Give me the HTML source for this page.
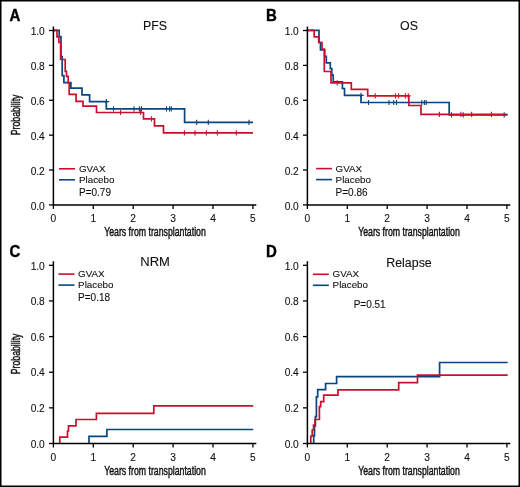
<!DOCTYPE html><html><head><meta charset="utf-8"><style>html,body{margin:0;padding:0;background:#fff;}svg{display:block;will-change:transform;}</style></head><body>
<svg width="520" height="487" viewBox="0 0 520 487" font-family='"Liberation Sans", sans-serif'>
<style>text{stroke:#111;stroke-width:0.1px;} text.cond{stroke-width:0.45px;} text.big{stroke:#000;stroke-width:0.35px;}</style>
<rect x="0" y="0" width="520" height="487" fill="#fff"/>
<path d="M49.0 204.90 H53.4" stroke="#000" stroke-width="1.3"/>
<text x="44.8" y="209.50" font-size="10.2" text-anchor="end" fill="#111">0.0</text>
<path d="M49.0 170.02 H53.4" stroke="#000" stroke-width="1.3"/>
<text x="44.8" y="174.62" font-size="10.2" text-anchor="end" fill="#111">0.2</text>
<path d="M49.0 135.14 H53.4" stroke="#000" stroke-width="1.3"/>
<text x="44.8" y="139.74" font-size="10.2" text-anchor="end" fill="#111">0.4</text>
<path d="M49.0 100.26 H53.4" stroke="#000" stroke-width="1.3"/>
<text x="44.8" y="104.86" font-size="10.2" text-anchor="end" fill="#111">0.6</text>
<path d="M49.0 65.38 H53.4" stroke="#000" stroke-width="1.3"/>
<text x="44.8" y="69.98" font-size="10.2" text-anchor="end" fill="#111">0.8</text>
<path d="M49.0 30.50 H53.4" stroke="#000" stroke-width="1.3"/>
<text x="44.8" y="35.10" font-size="10.2" text-anchor="end" fill="#111">1.0</text>
<path d="M53.40 204.9 V208.9" stroke="#000" stroke-width="1.3"/>
<text x="53.40" y="222.10" font-size="10.2" text-anchor="middle" fill="#111">0</text>
<path d="M93.30 204.9 V208.9" stroke="#000" stroke-width="1.3"/>
<text x="93.30" y="222.10" font-size="10.2" text-anchor="middle" fill="#111">1</text>
<path d="M133.20 204.9 V208.9" stroke="#000" stroke-width="1.3"/>
<text x="133.20" y="222.10" font-size="10.2" text-anchor="middle" fill="#111">2</text>
<path d="M173.10 204.9 V208.9" stroke="#000" stroke-width="1.3"/>
<text x="173.10" y="222.10" font-size="10.2" text-anchor="middle" fill="#111">3</text>
<path d="M213.00 204.9 V208.9" stroke="#000" stroke-width="1.3"/>
<text x="213.00" y="222.10" font-size="10.2" text-anchor="middle" fill="#111">4</text>
<path d="M252.90 204.9 V208.9" stroke="#000" stroke-width="1.3"/>
<text x="252.90" y="222.10" font-size="10.2" text-anchor="middle" fill="#111">5</text>
<text x="155.0" y="236.40" font-size="12.3" text-anchor="middle" textLength="101.6" class="cond" lengthAdjust="spacingAndGlyphs" fill="#111">Years from transplantation</text>
<text x="155" y="29.7" font-size="12.4" text-anchor="middle" fill="#111">PFS</text>
<path d="M303.0 204.90 H307.4" stroke="#000" stroke-width="1.3"/>
<text x="298.79999999999995" y="209.50" font-size="10.2" text-anchor="end" fill="#111">0.0</text>
<path d="M303.0 170.02 H307.4" stroke="#000" stroke-width="1.3"/>
<text x="298.79999999999995" y="174.62" font-size="10.2" text-anchor="end" fill="#111">0.2</text>
<path d="M303.0 135.14 H307.4" stroke="#000" stroke-width="1.3"/>
<text x="298.79999999999995" y="139.74" font-size="10.2" text-anchor="end" fill="#111">0.4</text>
<path d="M303.0 100.26 H307.4" stroke="#000" stroke-width="1.3"/>
<text x="298.79999999999995" y="104.86" font-size="10.2" text-anchor="end" fill="#111">0.6</text>
<path d="M303.0 65.38 H307.4" stroke="#000" stroke-width="1.3"/>
<text x="298.79999999999995" y="69.98" font-size="10.2" text-anchor="end" fill="#111">0.8</text>
<path d="M303.0 30.50 H307.4" stroke="#000" stroke-width="1.3"/>
<text x="298.79999999999995" y="35.10" font-size="10.2" text-anchor="end" fill="#111">1.0</text>
<path d="M307.40 204.9 V208.9" stroke="#000" stroke-width="1.3"/>
<text x="307.40" y="222.10" font-size="10.2" text-anchor="middle" fill="#111">0</text>
<path d="M347.30 204.9 V208.9" stroke="#000" stroke-width="1.3"/>
<text x="347.30" y="222.10" font-size="10.2" text-anchor="middle" fill="#111">1</text>
<path d="M387.20 204.9 V208.9" stroke="#000" stroke-width="1.3"/>
<text x="387.20" y="222.10" font-size="10.2" text-anchor="middle" fill="#111">2</text>
<path d="M427.10 204.9 V208.9" stroke="#000" stroke-width="1.3"/>
<text x="427.10" y="222.10" font-size="10.2" text-anchor="middle" fill="#111">3</text>
<path d="M467.00 204.9 V208.9" stroke="#000" stroke-width="1.3"/>
<text x="467.00" y="222.10" font-size="10.2" text-anchor="middle" fill="#111">4</text>
<path d="M506.90 204.9 V208.9" stroke="#000" stroke-width="1.3"/>
<text x="506.90" y="222.10" font-size="10.2" text-anchor="middle" fill="#111">5</text>
<text x="409.0" y="236.40" font-size="12.3" text-anchor="middle" textLength="101.6" class="cond" lengthAdjust="spacingAndGlyphs" fill="#111">Years from transplantation</text>
<text x="409" y="29.7" font-size="12.4" text-anchor="middle" fill="#111">OS</text>
<path d="M49.0 443.50 H53.4" stroke="#000" stroke-width="1.3"/>
<text x="44.8" y="447.70" font-size="10.2" text-anchor="end" fill="#111">0.0</text>
<path d="M49.0 407.86 H53.4" stroke="#000" stroke-width="1.3"/>
<text x="44.8" y="412.06" font-size="10.2" text-anchor="end" fill="#111">0.2</text>
<path d="M49.0 372.22 H53.4" stroke="#000" stroke-width="1.3"/>
<text x="44.8" y="376.42" font-size="10.2" text-anchor="end" fill="#111">0.4</text>
<path d="M49.0 336.58 H53.4" stroke="#000" stroke-width="1.3"/>
<text x="44.8" y="340.78" font-size="10.2" text-anchor="end" fill="#111">0.6</text>
<path d="M49.0 300.94 H53.4" stroke="#000" stroke-width="1.3"/>
<text x="44.8" y="305.14" font-size="10.2" text-anchor="end" fill="#111">0.8</text>
<path d="M49.0 265.30 H53.4" stroke="#000" stroke-width="1.3"/>
<text x="44.8" y="269.50" font-size="10.2" text-anchor="end" fill="#111">1.0</text>
<path d="M53.40 443.5 V447.5" stroke="#000" stroke-width="1.3"/>
<text x="53.40" y="460.70" font-size="10.2" text-anchor="middle" fill="#111">0</text>
<path d="M93.30 443.5 V447.5" stroke="#000" stroke-width="1.3"/>
<text x="93.30" y="460.70" font-size="10.2" text-anchor="middle" fill="#111">1</text>
<path d="M133.20 443.5 V447.5" stroke="#000" stroke-width="1.3"/>
<text x="133.20" y="460.70" font-size="10.2" text-anchor="middle" fill="#111">2</text>
<path d="M173.10 443.5 V447.5" stroke="#000" stroke-width="1.3"/>
<text x="173.10" y="460.70" font-size="10.2" text-anchor="middle" fill="#111">3</text>
<path d="M213.00 443.5 V447.5" stroke="#000" stroke-width="1.3"/>
<text x="213.00" y="460.70" font-size="10.2" text-anchor="middle" fill="#111">4</text>
<path d="M252.90 443.5 V447.5" stroke="#000" stroke-width="1.3"/>
<text x="252.90" y="460.70" font-size="10.2" text-anchor="middle" fill="#111">5</text>
<text x="155.0" y="475.00" font-size="12.3" text-anchor="middle" textLength="101.6" class="cond" lengthAdjust="spacingAndGlyphs" fill="#111">Years from transplantation</text>
<text x="155.1" y="266.4" font-size="13" text-anchor="middle" fill="#111">NRM</text>
<path d="M303.0 443.50 H307.4" stroke="#000" stroke-width="1.3"/>
<text x="298.79999999999995" y="447.70" font-size="10.2" text-anchor="end" fill="#111">0.0</text>
<path d="M303.0 407.86 H307.4" stroke="#000" stroke-width="1.3"/>
<text x="298.79999999999995" y="412.06" font-size="10.2" text-anchor="end" fill="#111">0.2</text>
<path d="M303.0 372.22 H307.4" stroke="#000" stroke-width="1.3"/>
<text x="298.79999999999995" y="376.42" font-size="10.2" text-anchor="end" fill="#111">0.4</text>
<path d="M303.0 336.58 H307.4" stroke="#000" stroke-width="1.3"/>
<text x="298.79999999999995" y="340.78" font-size="10.2" text-anchor="end" fill="#111">0.6</text>
<path d="M303.0 300.94 H307.4" stroke="#000" stroke-width="1.3"/>
<text x="298.79999999999995" y="305.14" font-size="10.2" text-anchor="end" fill="#111">0.8</text>
<path d="M303.0 265.30 H307.4" stroke="#000" stroke-width="1.3"/>
<text x="298.79999999999995" y="269.50" font-size="10.2" text-anchor="end" fill="#111">1.0</text>
<path d="M307.40 443.5 V447.5" stroke="#000" stroke-width="1.3"/>
<text x="307.40" y="460.70" font-size="10.2" text-anchor="middle" fill="#111">0</text>
<path d="M347.30 443.5 V447.5" stroke="#000" stroke-width="1.3"/>
<text x="347.30" y="460.70" font-size="10.2" text-anchor="middle" fill="#111">1</text>
<path d="M387.20 443.5 V447.5" stroke="#000" stroke-width="1.3"/>
<text x="387.20" y="460.70" font-size="10.2" text-anchor="middle" fill="#111">2</text>
<path d="M427.10 443.5 V447.5" stroke="#000" stroke-width="1.3"/>
<text x="427.10" y="460.70" font-size="10.2" text-anchor="middle" fill="#111">3</text>
<path d="M467.00 443.5 V447.5" stroke="#000" stroke-width="1.3"/>
<text x="467.00" y="460.70" font-size="10.2" text-anchor="middle" fill="#111">4</text>
<path d="M506.90 443.5 V447.5" stroke="#000" stroke-width="1.3"/>
<text x="506.90" y="460.70" font-size="10.2" text-anchor="middle" fill="#111">5</text>
<text x="409.0" y="475.00" font-size="12.3" text-anchor="middle" textLength="101.6" class="cond" lengthAdjust="spacingAndGlyphs" fill="#111">Years from transplantation</text>
<text x="409" y="266.5" font-size="12.4" text-anchor="middle" fill="#111">Relapse</text>
<text transform="translate(9.4 20.7) scale(1 1.07)" x="0" y="0" font-size="15" font-weight="bold" fill="#000" class="big">A</text>
<text transform="translate(266.0 20.9) scale(1 1.07)" x="0" y="0" font-size="15" font-weight="bold" fill="#000" class="big">B</text>
<text transform="translate(9.6 256.8) scale(1 1.07)" x="0" y="0" font-size="15" font-weight="bold" fill="#000" class="big">C</text>
<text transform="translate(266.0 256.9) scale(1 1.07)" x="0" y="0" font-size="15" font-weight="bold" fill="#000" class="big">D</text>
<text transform="translate(20.4 114.9) rotate(-90)" x="0" y="0" font-size="12.3" text-anchor="middle" textLength="40.6" class="cond" lengthAdjust="spacingAndGlyphs" fill="#111">Probability</text>
<text transform="translate(20.4 353.9) rotate(-90)" x="0" y="0" font-size="12.3" text-anchor="middle" textLength="40.6" class="cond" lengthAdjust="spacingAndGlyphs" fill="#111">Probability</text>
<path d="M59 168.8 H75" stroke="#c8102e" stroke-width="1.6"/>
<path d="M59 179.8 H75" stroke="#0a4581" stroke-width="1.6"/>
<text x="79" y="171.70000000000002" font-size="9.8" fill="#111">GVAX</text>
<text x="79" y="182.70000000000002" font-size="9.8" fill="#111">Placebo</text>
<text x="79" y="195.9" font-size="10" fill="#111">P=0.79</text>
<path d="M316.1 168.6 H332" stroke="#c8102e" stroke-width="1.6"/>
<path d="M316.1 179.6 H332" stroke="#0a4581" stroke-width="1.6"/>
<text x="335.6" y="171.5" font-size="9.8" fill="#111">GVAX</text>
<text x="335.6" y="182.5" font-size="9.8" fill="#111">Placebo</text>
<text x="335.6" y="195.9" font-size="10" fill="#111">P=0.86</text>
<path d="M58.4 274.1 H74.5" stroke="#c8102e" stroke-width="1.6"/>
<path d="M58.4 285.1 H74.5" stroke="#0a4581" stroke-width="1.6"/>
<text x="78.1" y="277.0" font-size="9.8" fill="#111">GVAX</text>
<text x="78.1" y="288.0" font-size="9.8" fill="#111">Placebo</text>
<text x="78.1" y="301.1" font-size="10" fill="#111">P=0.18</text>
<path d="M312.9 274.3 H328.8" stroke="#c8102e" stroke-width="1.6"/>
<path d="M312.9 285.3 H328.8" stroke="#0a4581" stroke-width="1.6"/>
<text x="332.6" y="277.2" font-size="9.8" fill="#111">GVAX</text>
<text x="332.6" y="288.2" font-size="9.8" fill="#111">Placebo</text>
<text x="353.7" y="308.3" font-size="10" fill="#111">P=0.51</text>
<path d="M53.4 30.4 H59.2 V36.5 H61 V56.5 H62.2 V75.6 H63.9 V82.7 H70.9 V88.2 H82 V94.9 H89.6 V101.6 H106.3 V108.9 H184.6 V122.4 H253" fill="none" stroke="#0a4581" stroke-width="1.7" stroke-linejoin="miter" stroke-linecap="butt"/>
<path d="M106.3 99.0 V104.19999999999999 M113.5 106.30000000000001 V111.5 M134 106.30000000000001 V111.5 M139.4 106.30000000000001 V111.5 M141.4 106.30000000000001 V111.5 M166.5 106.30000000000001 V111.5 M169.6 106.30000000000001 V111.5 M171.3 106.30000000000001 V111.5 M196.7 119.80000000000001 V125.0 M208.3 119.80000000000001 V125.0 M249 119.80000000000001 V125.0" fill="none" stroke="#0a4581" stroke-width="1.1"/>
<path d="M53.4 30.4 H57 V36.8 H58.9 V42.3 H60.6 V59.5 H65.2 V71.4 H66.5 V76.3 H68.2 V82.8 H69.2 V94.4 H76.1 V101.3 H83 V106.2 H96.5 V112.5 H143.5 V118.8 H154.5 V125.8 H163.5 V132.8 H253" fill="none" stroke="#c8102e" stroke-width="1.7" stroke-linejoin="miter" stroke-linecap="butt"/>
<path d="M120.6 109.9 V115.1 M140.6 109.9 V115.1 M151.5 116.2 V121.39999999999999 M184.4 130.20000000000002 V135.4 M195 130.20000000000002 V135.4 M206.3 130.20000000000002 V135.4 M217.3 130.20000000000002 V135.4 M236.3 130.20000000000002 V135.4" fill="none" stroke="#c8102e" stroke-width="1.1"/>
<path d="M307.4 30.3 H319 V42.5 H320.5 V49.9 H324.7 V56.3 H326.3 V62.9 H330.3 V68.7 H331.8 V75.2 H333.2 V81.8 H342.4 V88.5 H344.5 V95.4 H361 V102.5 H449.2 V114.9 H507.5" fill="none" stroke="#0a4581" stroke-width="1.7" stroke-linejoin="miter" stroke-linecap="butt"/>
<path d="M361 92.80000000000001 V98.0 M368.5 99.9 V105.1 M389 99.9 V105.1 M393.7 99.9 V105.1 M396.5 99.9 V105.1 M421.8 99.9 V105.1 M424.4 99.9 V105.1 M426.2 99.9 V105.1 M451.5 112.30000000000001 V117.5 M463.2 112.30000000000001 V117.5 M504.2 112.30000000000001 V117.5" fill="none" stroke="#0a4581" stroke-width="1.1"/>
<path d="M307.4 30.3 H314.2 V36.8 H318.7 V42.5 H322 V49.2 H324.3 V71.5 H331 V82.9 H351.3 V89.4 H367.7 V95.9 H408.8 V105.5 H421 V114.3 H507.5" fill="none" stroke="#c8102e" stroke-width="1.7" stroke-linejoin="miter" stroke-linecap="butt"/>
<path d="M337.2 80.30000000000001 V85.5 M375.2 93.30000000000001 V98.5 M395.5 93.30000000000001 V98.5 M398.6 93.30000000000001 V98.5 M405.4 93.30000000000001 V98.5 M408.3 93.30000000000001 V98.5 M439.4 111.7 V116.89999999999999 M460.9 111.7 V116.89999999999999 M471.6 111.7 V116.89999999999999 M491.4 111.7 V116.89999999999999" fill="none" stroke="#c8102e" stroke-width="1.1"/>
<path d="M106.3 101.6 H109.2 M361 95.4 H363.8" fill="none" stroke="#0a4581" stroke-width="1.1"/>
<path d="M408.8 95.9 H410.8" fill="none" stroke="#c8102e" stroke-width="1.1"/>
<path d="M89 443.5 V436.4 H106.9 V429.5 H253.2" fill="none" stroke="#0a4581" stroke-width="1.7" stroke-linejoin="miter" stroke-linecap="butt"/>
<path d="M59.8 443.5 V437.1 H67.5 V431 H68.5 V425.9 H76 V419.5 H96.4 V413.4 H153.8 V405.9 H253.2" fill="none" stroke="#c8102e" stroke-width="1.7" stroke-linejoin="miter" stroke-linecap="butt"/>
<path d="M313.7 443.5 V435.6 H314.5 V425.9 H315.4 V416.6 H316.4 V396.8 H317.7 V389.6 H325.6 V383.5 H336.6 V376.6 H439.6 V362.5 H507.7" fill="none" stroke="#0a4581" stroke-width="1.7" stroke-linejoin="miter" stroke-linecap="butt"/>
<path d="M310.8 443.5 V436 H312.2 V430 H313.5 V425 H315 V419.5 H319.4 V406.6 H320.7 V401.7 H323.7 V395.1 H338 V389.8 H398.7 V382.6 H417.5 V375.2 H507.7" fill="none" stroke="#c8102e" stroke-width="1.7" stroke-linejoin="miter" stroke-linecap="butt"/>
<path d="M53.4 26.5 V204.9 H256.3" fill="none" stroke="#000" stroke-width="1.5"/>
<path d="M307.4 26.5 V204.9 H510.29999999999995" fill="none" stroke="#000" stroke-width="1.5"/>
<path d="M53.4 261.3 V443.5 H256.3" fill="none" stroke="#000" stroke-width="1.5"/>
<path d="M307.4 261.3 V443.5 H510.29999999999995" fill="none" stroke="#000" stroke-width="1.5"/>
<path d="M0 0H520V487H0Z M1.5 1.5V485.5H518.5V1.5Z" fill="#000" fill-rule="evenodd"/>
</svg></body></html>
